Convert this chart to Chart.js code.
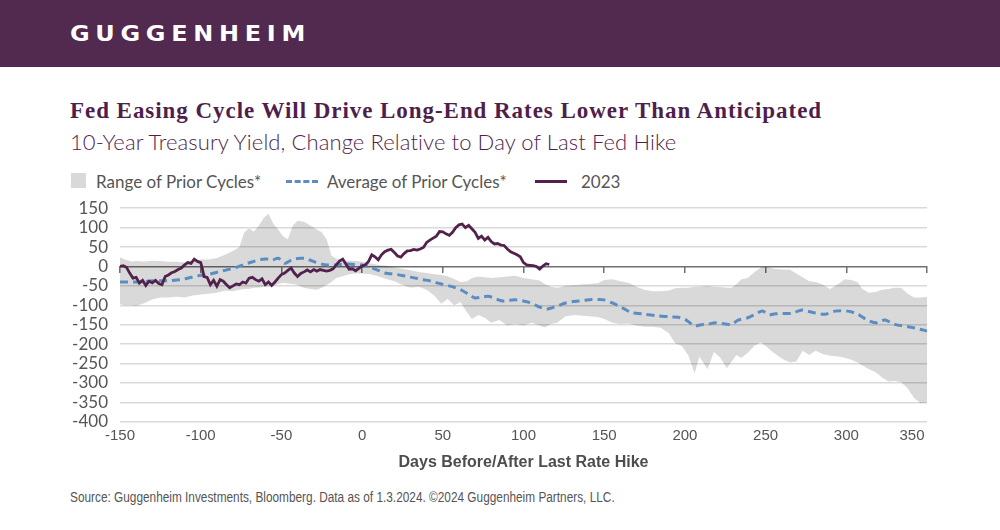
<!DOCTYPE html>
<html><head><meta charset="utf-8">
<script src="https://cdn.jsdelivr.net/npm/chart.js@4.4.1/dist/chart.umd.min.js"></script>
<style>
body{margin:0;width:1000px;height:530px;position:relative;overflow:hidden;background:#fff}
.abs{position:absolute;white-space:nowrap}
#hdr{left:0;top:0;width:1000px;height:67px;background:#52294f}
#logo{left:70px;top:24px;color:#fff;font:bold 21px 'DejaVu Sans',sans-serif;line-height:20px;letter-spacing:5px;transform:scaleX(1.14);transform-origin:0 0}
#title{left:70px;top:98px;color:#4f1f4c;font:bold 23px 'Liberation Serif',serif;line-height:normal;letter-spacing:0.95px}
#sub{left:70px;top:128px;color:#4f1f4c;font:300 22px Lato,sans-serif;line-height:normal;letter-spacing:0.1px}
.leg{top:171px;color:#555;font:17px Lato,sans-serif;line-height:normal}
#foot{left:70px;top:489px;color:#555;font:14px 'Liberation Sans',sans-serif;line-height:normal;transform:scaleX(0.845);transform-origin:0 0}
#wrap{left:0;top:186px;width:1000px;height:290px}
</style></head><body>
<div id="hdr" class="abs"><span id="logo" class="abs">GUGGENHEIM</span></div>
<div id="title" class="abs">Fed Easing Cycle Will Drive Long-End Rates Lower Than Anticipated</div>
<div id="sub" class="abs">10-Year Treasury Yield, Change Relative to Day of Last Fed Hike</div>
<div class="abs" style="left:71px;top:173px;width:15px;height:15px;background:#d9d9d9"></div>
<div class="abs leg" style="left:96px">Range of Prior Cycles*</div>
<div class="abs" style="left:286px;top:180px;width:32px;height:0;border-top:3px dashed #5b8dc2"></div>
<div class="abs leg" style="left:327px">Average of Prior Cycles*</div>
<div class="abs" style="left:535px;top:180px;width:32px;height:3px;background:#52224d"></div>
<div class="abs leg" style="left:581px">2023</div>
<div id="wrap" class="abs"><canvas id="c"></canvas></div>
<div id="foot" class="abs">Source: Guggenheim Investments, Bloomberg. Data as of 1.3.2024. ©2024 Guggenheim Partners, LLC.</div>
<script>
const xTickValues = [-150,-100,-50,0,50,100,150,200,250,300,350];
const yTickValues = [-400,-350,-300,-250,-200,-150,-100,-50,0,50,100,150];

const rangeDays = [-150,-147,-143,-140,-135,-130,-125,-120,-115,-110,-105,-100,-95,-90,-85,-80,-76,-73,-70,-67,-64,-61,-58,-55,-52,-49,-46,-43,-40,-36,-32,-28,-25,-22,-19,-16,-12,-8,-4,0,5,10,15,20,25,30,35,40,45,49,53,57,61,65,68,72,76,80,85,90,95,100,105,110,113,117,121,126,132,140,146,150,155,160,165,170,175,180,185,190,194,198,202,206,209,214,218,222,226,229,232,235,239,243,247,250,255,260,265,269,273,277,281,285,290,295,299,303,307,310,314,318,322,326,330,334,338,342,346,350];
const rangeHigh = [24,18,13,14,13,15,14,12,12,10,14,18,18,22,30,40,50,88,98,90,105,125,136,110,95,78,70,105,118,115,105,95,88,70,28,20,15,15,14,13,8,4,2,-3,-6,-10,-14,-17,-20,-22,-25,-32,-40,-38,-30,-26,-28,-30,-28,-26,-24,-30,-33,-36,-45,-52,-55,-50,-48,-45,-43,-35,-33,-38,-42,-52,-60,-64,-64,-62,-56,-55,-55,-52,-52,-50,-52,-53,-55,-55,-45,-33,-30,-15,-3,0,-6,-8,-8,-18,-28,-38,-40,-46,-58,-45,-33,-35,-40,-58,-68,-66,-60,-58,-55,-55,-70,-80,-80,-78];
const rangeLow = [-97,-100,-100,-102,-95,-85,-80,-80,-78,-80,-75,-72,-70,-68,-62,-64,-60,-58,-58,-55,-55,-52,-52,-50,-45,-42,-44,-45,-48,-55,-58,-60,-55,-48,-40,-30,-25,-20,-18,-18,-20,-25,-32,-38,-48,-55,-52,-60,-76,-96,-84,-100,-92,-118,-135,-125,-132,-145,-138,-152,-148,-152,-145,-152,-157,-148,-145,-128,-125,-128,-130,-135,-145,-148,-147,-152,-155,-155,-158,-172,-198,-205,-228,-275,-232,-265,-220,-235,-262,-245,-228,-236,-222,-205,-195,-205,-222,-237,-247,-245,-217,-228,-217,-225,-230,-232,-235,-240,-247,-255,-265,-272,-285,-296,-295,-298,-314,-339,-352,-350];

const avgDays = [-150,-145,-140,-135,-130,-125,-120,-115,-111,-107,-103,-99,-95,-91,-87,-83,-79,-75,-71,-67,-63,-59,-56,-52,-48,-45,-42,-38,-35,-32,-29,-25,-21,-17,-13,-9,-5,0,3,6,10,14,18,22,27,33,38,43,47,50,54,58,62,66,70,74,78,82,87,91,95,99,103,107,111,114,118,122,126,130,134,138,142,146,150,155,161,167,171,175,183,192,196,200,203,206,210,214,219,225,229,233,239,244,248,252,256,260,266,270,273,277,281,287,293,301,307,311,314,318,321,324,330,338,343,347,350];
const avgValues = [-40,-40,-40,-39,-37,-37,-37,-35,-33,-29,-25,-22,-20,-16,-12,-8,-4,2,8,13,18,19,16,21,8,14,19,21,21,16,11,6,4,4,5,6,5,4,0,-4,-10,-17,-19,-21,-25,-30,-34,-38,-43,-46,-50,-55,-62,-72,-81,-79,-77,-82,-89,-87,-86,-88,-92,-99,-106,-110,-106,-100,-94,-91,-89,-87,-85,-85,-86,-94,-106,-119,-121,-123,-127,-130,-131,-136,-145,-153,-150,-149,-145,-148,-149,-138,-132,-122,-115,-124,-122,-121,-121,-115,-112,-116,-120,-123,-115,-115,-123,-133,-140,-145,-141,-138,-149,-155,-159,-163,-166];

const days2023 = [-150,-148,-146,-144,-142,-140,-138,-136,-134,-132,-130,-128,-126,-124,-122,-120,-118,-116,-114,-112,-110,-108,-106,-104,-102,-100,-99,-98,-96,-94,-92,-90,-88,-86,-84,-82,-80,-78,-76,-74,-72,-70,-68,-66,-64,-62,-60,-58,-56,-54,-52,-50,-48,-46,-44,-42,-40,-38,-36,-34,-32,-30,-28,-26,-24,-22,-20,-18,-16,-14,-12,-10,-8,-6,-4,-2,0,2,4,6,8,10,12,14,16,18,20,22,24,26,28,30,32,34,36,38,40,42,44,46,48,50,52,54,56,58,60,62,64,66,68,70,72,74,76,78,80,82,84,86,88,90,92,94,96,98,100,102,104,106,108,110,112,114,116];
const values2023 = [0,2,-2,-17,-30,-28,-43,-36,-49,-38,-42,-36,-44,-47,-26,-22,-16,-13,-8,-4,4,10,8,19,13,10,-5,-26,-28,-47,-36,-51,-34,-38,-47,-55,-50,-45,-47,-40,-43,-30,-28,-34,-38,-32,-47,-40,-49,-40,-30,-21,-17,-10,-4,-17,-26,-18,-14,-9,-14,-8,-12,-8,-10,-12,-10,-6,4,14,19,6,-7,-6,-11,-5,1,4,13,30,25,17,30,38,42,44,36,27,24,33,40,41,44,42,45,49,62,68,73,78,90,89,84,80,88,100,107,109,100,106,97,88,72,78,68,75,64,58,59,55,54,45,38,34,30,25,10,4,3,2,0,-7,1,7,5];

const pts = (xs, ys) => xs.map((x, i) => ({x: x, y: ys[i]}));
const sans = "'Liberation Sans',Arial,sans-serif";

new Chart(document.getElementById('c'), {
  type: 'line',
  data: {
    datasets: [
      {label: '2023', data: pts(days2023, values2023), borderColor: '#52224d', borderWidth: 2.8, pointRadius: 0, tension: 0, fill: false, xAxisID: 'x', yAxisID: 'y'},
      {label: 'Average of Prior Cycles*', data: pts(avgDays, avgValues), borderColor: '#5b8dc2', borderWidth: 3, borderDash: [8, 5], pointRadius: 0, tension: 0.3, fill: false, xAxisID: 'x', yAxisID: 'y'},
      {label: 'Range of Prior Cycles*', data: pts(rangeDays, rangeHigh), borderColor: 'rgba(0,0,0,0)', borderWidth: 0, backgroundColor: 'rgba(0,0,0,0.15)', pointRadius: 0, tension: 0, fill: '+1', xAxisID: 'x', yAxisID: 'y'},
      {label: 'Range low', data: pts(rangeDays, rangeLow), borderColor: 'rgba(0,0,0,0)', borderWidth: 0, pointRadius: 0, tension: 0, fill: false, xAxisID: 'x', yAxisID: 'y'}
    ]
  },
  options: {
    responsive: true, maintainAspectRatio: false, animation: false,
    layout: {padding: {left: 0, right: 73, top: 12, bottom: 0}},
    plugins: {legend: {display: false}, tooltip: {enabled: false}},
    scales: {
      x: {
        type: 'linear', min: -150, max: 350, position: 'bottom',
        grid: {display: false, drawTicks: false, tickLength: 0},
        border: {display: false},
        afterBuildTicks: s => { s.ticks = xTickValues.map(v => ({value: v})); },
        ticks: {color: '#555', font: {family: sans, size: 15}, padding: 5, maxRotation: 0, autoSkip: false,
          callback: v => v === 350 ? '350\u2003\u2003' : String(v)},
        title: {display: true, text: 'Days Before/After Last Rate Hike', color: '#4d4d4d', font: {family: sans, size: 16, weight: 'bold'}, padding: {top: 3, bottom: 4}}
      },
      x2: {
        axis: 'x', type: 'linear', min: -150, max: 350, position: {y: 0},
        afterBuildTicks: s => { s.ticks = xTickValues.map(v => ({value: v})); },
        grid: {drawOnChartArea: false, drawTicks: true, tickLength: 7, color: '#707070', lineWidth: 1.5},
        border: {display: false},
        ticks: {display: false}
      },
      y: {
        min: -400, max: 150,
        afterBuildTicks: s => { s.ticks = yTickValues.map(v => ({value: v})); },
        ticks: {color: '#555', font: {family: 'Lato, sans-serif', size: 17}, padding: 12, autoSkip: false},
        grid: {drawTicks: false, lineWidth: 1.5, color: c => (c.tick && c.tick.value === 0) ? '#707070' : '#d9d9d9'},
        border: {display: false},
        afterFit: s => { s.width = 120; }
      }
    }
  }
});
</script>
</body></html>
